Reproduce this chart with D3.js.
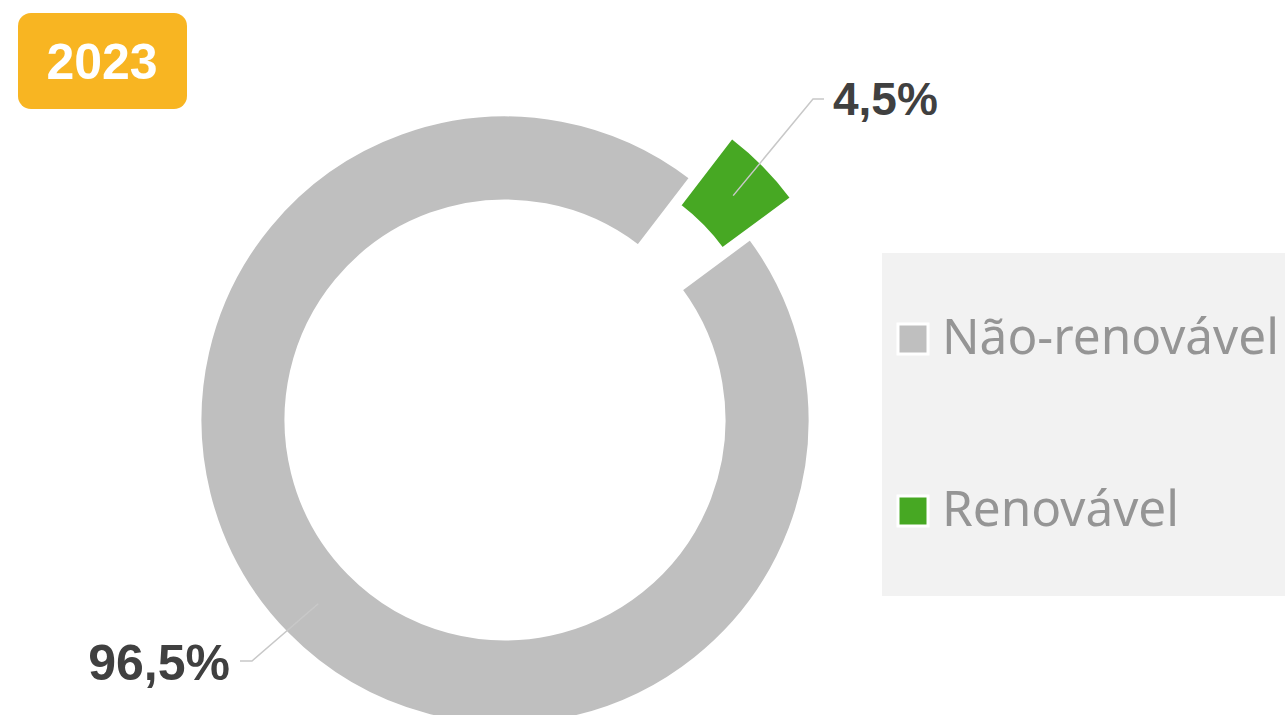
<!DOCTYPE html>
<html>
<head>
<meta charset="utf-8">
<script src="https://cdn.jsdelivr.net/npm/d3@7"></script>
<style>
  html, body { margin: 0; padding: 0; background: #ffffff; }
  svg { display: block; }
</style>
</head>
<body>
<div id="chart"></div>
<script>
// data
const categories = ["Não-renovável", "Renovável"];
const shares = [96.5, 4.5];
const sliceColors = ["#bfbfbf", "#47a823"];
const yearLabel = "2023";

const width = 1285;
const height = 715;

const svg = d3.select("#chart").append("svg")
  .attr("width", width)
  .attr("height", height);

const center = { x: 505, y: 420 };
const outerR = 305;
const innerR = 219;
const explodeBy = 58;

const formatPct = v => d3.format(".1f")(v).replace(".", ",") + "%";

const pie = d3.pie()
  .sort(null)
  .value(d => d)
  .startAngle(53.5 * Math.PI / 180)
  .endAngle(53.5 * Math.PI / 180 + 2 * Math.PI);

const arc = d3.arc()
  .innerRadius(innerR)
  .outerRadius(outerR);

const arcs = pie(shares);

// renewable slice is pulled out of the ring
function offsetFor(d, i) {
  if (i !== 1) return [0, 0];
  const mid = (d.startAngle + d.endAngle) / 2;
  return [Math.sin(mid) * explodeBy, -Math.cos(mid) * explodeBy];
}

const ring = svg.append("g")
  .attr("transform", "translate(" + center.x + "," + center.y + ")");

ring.selectAll("path.slice")
  .data(arcs)
  .enter().append("path")
    .attr("class", "slice")
    .attr("transform", (d, i) => "translate(" + offsetFor(d, i).join(",") + ")")
    .attr("d", arc)
    .attr("fill", (d, i) => sliceColors[i])
    .attr("stroke", "#ffffff")
    .attr("stroke-width", 3);

// data labels with leader lines
const labelSpots = [
  { elbow: [-253, 241], end: [-265, 241], anchor: "end", size: 50, dy: 19 },
  { elbow: [308, -321], end: [319, -321], anchor: "start", size: 46, dy: 16 }
];

const labels = ring.selectAll("g.label")
  .data(arcs)
  .enter().append("g")
    .attr("class", "label");

labels.append("polyline")
  .attr("points", (d, i) => {
    const off = offsetFor(d, i);
    const c = arc.centroid(d);
    const p0 = [c[0] + off[0], c[1] + off[1]];
    const s = labelSpots[i];
    return [p0, s.elbow, s.end].map(p => p.join(",")).join(" ");
  })
  .attr("fill", "none")
  .attr("stroke", "#c8c8c8")
  .attr("stroke-width", 1.5);

labels.append("text")
  .attr("x", (d, i) => labelSpots[i].end[0] + (labelSpots[i].anchor === "end" ? -10 : 9))
  .attr("y", (d, i) => labelSpots[i].end[1] + labelSpots[i].dy)
  .attr("text-anchor", (d, i) => labelSpots[i].anchor)
  .attr("font-family", "Liberation Sans, Arial, sans-serif")
  .attr("font-weight", "bold")
  .attr("font-size", (d, i) => labelSpots[i].size)
  .attr("fill", "#404040")
  .text(d => formatPct(d.data));

// legend
const legend = svg.append("g").attr("transform", "translate(882,253)");
legend.append("rect")
  .attr("width", width - 882)
  .attr("height", 343)
  .attr("fill", "#f2f2f2");

const legendItem = legend.selectAll("g.item")
  .data(categories)
  .enter().append("g")
    .attr("class", "item")
    .attr("transform", (d, i) => "translate(0," + (i * 172) + ")");

legendItem.append("rect")
  .attr("x", 16)
  .attr("y", 71)
  .attr("width", 30)
  .attr("height", 30)
  .attr("fill", (d, i) => sliceColors[i])
  .attr("stroke", "#ffffff")
  .attr("stroke-width", 3);

legendItem.append("text")
  .attr("x", 60)
  .attr("y", 101)
  .attr("font-family", "Noto Sans, sans-serif")
  .attr("font-size", 49.5)
  .attr("fill", "#959595")
  .text(d => d);

// year badge
const badge = svg.append("g");
badge.append("rect")
  .attr("x", 18)
  .attr("y", 13)
  .attr("width", 169)
  .attr("height", 96)
  .attr("rx", 13)
  .attr("fill", "#f8b522");
badge.append("text")
  .attr("x", 102)
  .attr("y", 79)
  .attr("text-anchor", "middle")
  .attr("font-family", "Liberation Sans, Arial, sans-serif")
  .attr("font-weight", "bold")
  .attr("font-size", 50)
  .attr("fill", "#ffffff")
  .text(yearLabel);
</script>
</body>
</html>
